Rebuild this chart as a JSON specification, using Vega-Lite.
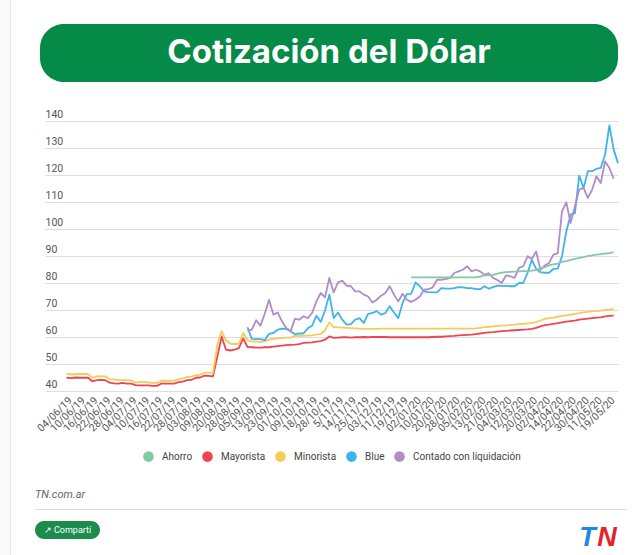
{"$schema":"https://vega.github.io/schema/vega-lite/v6.json","background":"#ffffff","padding":0,"autosize":{"type":"pad"},"config":{"concat":{"spacing":0},"view":{"stroke":null},"text":{"font":"Roboto"}},"datasets":{"blank":[{}],"dolar":[
{"d":"04/06/19","Mayorista":44.9,"Minorista":46.3},{"d":"06/06/19","Mayorista":44.8,"Minorista":46.2},{"d":"07/06/19","Mayorista":45,"Minorista":46.2},{"d":"10/06/19","Mayorista":44.9,"Minorista":46.3},{"d":"11/06/19","Mayorista":44.9,"Minorista":46.3},{"d":"13/06/19","Mayorista":44.9,"Minorista":46.2},{"d":"16/06/19","Mayorista":43.6,"Minorista":44.9},{"d":"18/06/19","Mayorista":44,"Minorista":45.4},{"d":"20/06/19","Mayorista":44.1,"Minorista":45.5},{"d":"22/06/19","Mayorista":44,"Minorista":45.4},{"d":"24/06/19","Mayorista":43.1,"Minorista":44.4},{"d":"26/06/19","Mayorista":42.8,"Minorista":44.3},{"d":"28/06/19","Mayorista":42.7,"Minorista":44},{"d":"30/06/19","Mayorista":43,"Minorista":44},{"d":"02/07/19","Mayorista":42.7,"Minorista":44},{"d":"04/07/19","Mayorista":42.7,"Minorista":43.9},{"d":"06/07/19","Mayorista":42.2,"Minorista":43.1},{"d":"08/07/19","Mayorista":42.1,"Minorista":43.4},{"d":"10/07/19","Mayorista":42.1,"Minorista":43.4},{"d":"12/07/19","Mayorista":42.1,"Minorista":43.2},{"d":"14/07/19","Mayorista":41.9,"Minorista":43},{"d":"16/07/19","Mayorista":41.9,"Minorista":43},{"d":"18/07/19","Mayorista":42.8,"Minorista":43.8},{"d":"20/07/19","Mayorista":42.7,"Minorista":43.8},{"d":"22/07/19","Mayorista":42.7,"Minorista":43.8},{"d":"24/07/19","Mayorista":42.7,"Minorista":43.8},{"d":"26/07/19","Mayorista":43.3,"Minorista":44.4},{"d":"28/07/19","Mayorista":43.5,"Minorista":44.7},{"d":"30/07/19","Mayorista":44,"Minorista":45.2},{"d":"01/08/19","Mayorista":44.1,"Minorista":45.3},{"d":"03/08/19","Mayorista":44.9,"Minorista":45.9},{"d":"05/08/19","Mayorista":45,"Minorista":46},{"d":"07/08/19","Mayorista":45.7,"Minorista":46.8},{"d":"09/08/19","Mayorista":45.6,"Minorista":46.8},{"d":"12/08/19","Mayorista":45.4,"Minorista":46.7},{"d":"14/08/19","Mayorista":52.8,"Minorista":57.2},{"d":"20/08/19","Mayorista":60.2,"Minorista":62.2},{"d":"22/08/19","Mayorista":55.3,"Minorista":58.8},{"d":"26/08/19","Mayorista":55,"Minorista":57.5},{"d":"28/08/19","Mayorista":55.3,"Minorista":57.4},{"d":"30/08/19","Mayorista":55.9,"Minorista":57.4},{"d":"03/09/19","Mayorista":59.5,"Minorista":61.5},{"d":"05/09/19","Mayorista":56.3,"Minorista":58.8,"Blue":63.6,"Contado con liquidación":62.3},{"d":"09/09/19","Mayorista":56.2,"Minorista":58.4,"Blue":59.3,"Contado con liquidación":62.7},{"d":"11/09/19","Mayorista":56.1,"Minorista":58.3,"Blue":59.2,"Contado con liquidación":66.2},{"d":"13/09/19","Mayorista":56.1,"Minorista":58.2,"Blue":59.2,"Contado con liquidación":64.2},{"d":"17/09/19","Mayorista":56.2,"Minorista":58.4,"Blue":58.8,"Contado con liquidación":68.6},{"d":"19/09/19","Mayorista":56.2,"Minorista":59,"Blue":61.2,"Contado con liquidación":73.8},{"d":"23/09/19","Mayorista":56.4,"Minorista":59.3,"Blue":61.5,"Contado con liquidación":68.3},{"d":"25/09/19","Mayorista":56.6,"Minorista":59.5,"Blue":62.7,"Contado con liquidación":69.1},{"d":"27/09/19","Mayorista":56.8,"Minorista":59.6,"Blue":63.1,"Contado con liquidación":65.8},{"d":"01/10/19","Mayorista":57,"Minorista":59.8,"Blue":63,"Contado con liquidación":63.3},{"d":"03/10/19","Mayorista":57.1,"Minorista":59.8,"Blue":62.1,"Contado con liquidación":62.1},{"d":"07/10/19","Mayorista":57.2,"Minorista":60.4,"Blue":61,"Contado con liquidación":66.7},{"d":"09/10/19","Mayorista":57.4,"Minorista":60.4,"Blue":61.3,"Contado con liquidación":66.4},{"d":"11/10/19","Mayorista":57.8,"Minorista":60.4,"Blue":61.3,"Contado con liquidación":67.7},{"d":"16/10/19","Mayorista":57.9,"Minorista":60.5,"Blue":63.2,"Contado con liquidación":67},{"d":"18/10/19","Mayorista":58,"Minorista":60.6,"Blue":64.2,"Contado con liquidación":68.9},{"d":"22/10/19","Mayorista":58.3,"Minorista":60.9,"Blue":67.9,"Contado con liquidación":73.2},{"d":"24/10/19","Mayorista":58.5,"Minorista":61.1,"Blue":65.6,"Contado con liquidación":76.3},{"d":"28/10/19","Mayorista":59,"Minorista":62.5,"Blue":69.8,"Contado con liquidación":74.7},{"d":"30/10/19","Mayorista":60.2,"Minorista":65.4,"Blue":75.7,"Contado con liquidación":81.9},{"d":"01/11/19","Mayorista":59.7,"Minorista":63.7,"Blue":67,"Contado con liquidación":76.5},{"d":"5/11/19","Mayorista":59.8,"Minorista":63.6,"Blue":69.1,"Contado con liquidación":80.2},{"d":"07/11/19","Mayorista":59.9,"Minorista":63.5,"Blue":66.4,"Contado con liquidación":80.9},{"d":"11/11/19","Mayorista":59.9,"Minorista":63.4,"Blue":64.6,"Contado con liquidación":79},{"d":"14/11/19","Mayorista":59.8,"Minorista":63.3,"Blue":64.8,"Contado con liquidación":78.8},{"d":"18/11/19","Mayorista":59.9,"Minorista":63.2,"Blue":66.4,"Contado con liquidación":76.9},{"d":"21/11/19","Mayorista":59.9,"Minorista":63.1,"Blue":67,"Contado con liquidación":76.9},{"d":"25/11/19","Mayorista":60,"Minorista":63,"Blue":65.2,"Contado con liquidación":75.7},{"d":"27/11/19","Mayorista":59.9,"Minorista":63,"Blue":68.6,"Contado con liquidación":75},{"d":"29/11/19","Mayorista":60,"Minorista":63,"Blue":68.9,"Contado con liquidación":72.8},{"d":"03/12/19","Mayorista":60,"Minorista":63,"Blue":69.6,"Contado con liquidación":73.8},{"d":"05/12/19","Mayorista":60,"Minorista":63.1,"Blue":68.3,"Contado con liquidación":75.3},{"d":"09/12/19","Mayorista":60,"Minorista":63.1,"Blue":68.9,"Contado con liquidación":76.3},{"d":"11/12/19","Mayorista":59.9,"Minorista":63.1,"Blue":71.4,"Contado con liquidación":78.8},{"d":"13/12/19","Mayorista":59.9,"Minorista":63.1,"Blue":69.1,"Contado con liquidación":75.7},{"d":"17/12/19","Mayorista":59.9,"Minorista":63.1,"Blue":67,"Contado con liquidación":73.2},{"d":"19/12/19","Mayorista":59.9,"Minorista":63.1,"Blue":72.6,"Contado con liquidación":76},{"d":"23/12/19","Mayorista":59.9,"Minorista":63.1,"Blue":75.9,"Contado con liquidación":73.8},{"d":"27/12/19","Ahorro":82.1,"Mayorista":59.9,"Minorista":63.1,"Blue":76,"Contado con liquidación":73},{"d":"02/01/20","Ahorro":82.1,"Mayorista":59.9,"Minorista":63.1,"Blue":80.2,"Contado con liquidación":73.8},{"d":"06/01/20","Ahorro":82.1,"Mayorista":59.9,"Minorista":63.1,"Blue":78.8,"Contado con liquidación":75},{"d":"08/01/20","Ahorro":82.1,"Mayorista":59.9,"Minorista":63.1,"Blue":76.9,"Contado con liquidación":77.5},{"d":"10/01/20","Ahorro":82.1,"Mayorista":59.9,"Minorista":63.1,"Blue":76.6,"Contado con liquidación":77.7},{"d":"14/01/20","Ahorro":82.1,"Mayorista":60,"Minorista":63.1,"Blue":76.5,"Contado con liquidación":78.4},{"d":"16/01/20","Ahorro":82.1,"Mayorista":60.1,"Minorista":63.1,"Blue":76.5,"Contado con liquidación":81.2},{"d":"20/01/20","Ahorro":82.1,"Mayorista":60.1,"Minorista":63.1,"Blue":78.1,"Contado con liquidación":81.2},{"d":"22/01/20","Ahorro":82.1,"Mayorista":60.2,"Minorista":63.1,"Blue":77.9,"Contado con liquidación":81.4},{"d":"24/01/20","Ahorro":82.1,"Mayorista":60.3,"Minorista":63.1,"Blue":77.9,"Contado con liquidación":81.9},{"d":"28/01/20","Ahorro":82.1,"Mayorista":60.4,"Minorista":63.1,"Blue":78.1,"Contado con liquidación":83.7},{"d":"30/01/20","Ahorro":82.1,"Mayorista":60.6,"Minorista":63.1,"Blue":78.5,"Contado con liquidación":84.3},{"d":"03/02/20","Ahorro":82.1,"Mayorista":60.7,"Minorista":63.1,"Blue":78.4,"Contado con liquidación":84.9},{"d":"05/02/20","Ahorro":82.1,"Mayorista":60.8,"Minorista":63.1,"Blue":78.1,"Contado con liquidación":86.2},{"d":"07/02/20","Ahorro":82.1,"Mayorista":60.9,"Minorista":63.1,"Blue":78.1,"Contado con liquidación":84.3},{"d":"11/02/20","Ahorro":82.1,"Mayorista":61.1,"Minorista":63.2,"Blue":77.7,"Contado con liquidación":84.9},{"d":"13/02/20","Ahorro":82.4,"Mayorista":61.3,"Minorista":63.4,"Blue":77.7,"Contado con liquidación":84.3},{"d":"17/02/20","Ahorro":82.8,"Mayorista":61.5,"Minorista":63.7,"Blue":78.8,"Contado con liquidación":83.1},{"d":"19/02/20","Ahorro":82.9,"Mayorista":61.7,"Minorista":63.8,"Blue":77.9,"Contado con liquidación":83.6},{"d":"21/02/20","Ahorro":83,"Mayorista":61.8,"Minorista":63.9,"Blue":78.5,"Contado con liquidación":81.9},{"d":"27/02/20","Ahorro":83.5,"Mayorista":62,"Minorista":64.1,"Blue":79,"Contado con liquidación":81.1},{"d":"02/03/20","Ahorro":83.8,"Mayorista":62.2,"Minorista":64.2,"Blue":78.9,"Contado con liquidación":80},{"d":"04/03/20","Ahorro":84,"Mayorista":62.3,"Minorista":64.3,"Blue":78.9,"Contado con liquidación":82.8},{"d":"06/03/20","Ahorro":84.1,"Mayorista":62.4,"Minorista":64.5,"Blue":78.8,"Contado con liquidación":82.5},{"d":"10/03/20","Ahorro":84.2,"Mayorista":62.5,"Minorista":64.6,"Blue":78.8,"Contado con liquidación":81.9},{"d":"12/03/20","Ahorro":84.3,"Mayorista":62.6,"Minorista":64.8,"Blue":80,"Contado con liquidación":85.6},{"d":"16/03/20","Ahorro":84.4,"Mayorista":62.7,"Minorista":64.9,"Blue":80,"Contado con liquidación":86.2},{"d":"18/03/20","Ahorro":84.4,"Mayorista":62.8,"Minorista":65,"Blue":83.7,"Contado con liquidación":89.9},{"d":"20/03/20","Ahorro":84.6,"Mayorista":63,"Minorista":65.2,"Blue":88.6,"Contado con liquidación":88.9},{"d":"25/03/20","Ahorro":84.8,"Mayorista":63.4,"Minorista":65.5,"Blue":85.2,"Contado con liquidación":91.7},{"d":"30/03/20","Ahorro":85.4,"Mayorista":63.9,"Minorista":66.1,"Blue":84,"Contado con liquidación":84.9},{"d":"02/04/20","Ahorro":85.9,"Mayorista":64.4,"Minorista":66.7,"Blue":83.8,"Contado con liquidación":86.5},{"d":"07/04/20","Ahorro":86.5,"Mayorista":64.6,"Minorista":67,"Blue":83.8,"Contado con liquidación":87.4},{"d":"09/04/20","Ahorro":86.9,"Mayorista":64.9,"Minorista":67.2,"Blue":85.2,"Contado con liquidación":90.5},{"d":"14/04/20","Ahorro":87.2,"Mayorista":65.1,"Minorista":67.5,"Blue":85.3,"Contado con liquidación":91},{"d":"16/04/20","Ahorro":87.8,"Mayorista":65.4,"Minorista":67.8,"Blue":89.9,"Contado con liquidación":106.5},{"d":"20/04/20","Ahorro":88.1,"Mayorista":65.7,"Minorista":68,"Blue":99.1,"Contado con liquidación":109.9},{"d":"22/04/20","Ahorro":88.6,"Mayorista":65.9,"Minorista":68.3,"Blue":105.3,"Contado con liquidación":102.2},{"d":"24/04/20","Ahorro":88.9,"Mayorista":66.1,"Minorista":68.6,"Blue":105.9,"Contado con liquidación":108.4},{"d":"28/04/20","Ahorro":89.3,"Mayorista":66.4,"Minorista":68.8,"Blue":119.8,"Contado con liquidación":114.6},{"d":"30/04/20","Ahorro":89.6,"Mayorista":66.6,"Minorista":69.1,"Blue":115.2,"Contado con liquidación":115.2},{"d":"05/05/20","Ahorro":90,"Mayorista":66.8,"Minorista":69.3,"Blue":121.4,"Contado con liquidación":111.5},{"d":"07/05/20","Ahorro":90.2,"Mayorista":67,"Minorista":69.5,"Blue":121.4,"Contado con liquidación":114.6},{"d":"11/05/20","Ahorro":90.5,"Mayorista":67.2,"Minorista":69.6,"Blue":122.3,"Contado con liquidación":119.5},{"d":"13/05/20","Ahorro":90.7,"Mayorista":67.3,"Minorista":69.8,"Blue":122.6,"Contado con liquidación":117},{"d":"15/05/20","Ahorro":90.9,"Mayorista":67.6,"Minorista":70,"Blue":127.5,"Contado con liquidación":125},{"d":"19/05/20","Ahorro":91.1,"Mayorista":67.8,"Minorista":70.1,"Blue":138.4,"Contado con liquidación":122.6},{"d":"20/05/20","Ahorro":91.4,"Mayorista":67.9,"Minorista":70.4,"Blue":129.4,"Contado con liquidación":118.6},{"d":"21/05/20","Blue":124.4}
]},
"hconcat":[
{"width":10,"height":555,"view":{"fill":"#fafafa","stroke":null},"data":{"name":"blank"},"mark":{"type":"rect","opacity":0}},
{"width":1,"height":555,"view":{"fill":"#e6e6e6","stroke":null},"data":{"name":"blank"},"mark":{"type":"rect","opacity":0}},
{"width":21,"height":555,"data":{"name":"blank"},"mark":{"type":"rect","opacity":0}},
{"vconcat":[
{"width":1,"height":24,"data":{"name":"blank"},"mark":{"type":"rect","opacity":0}},
{"hconcat":[
{"width":8,"height":58,"data":{"name":"blank"},"mark":{"type":"rect","opacity":0}},
{"width":578,"height":58,"view":{"fill":"#068a47","cornerRadius":24,"stroke":null},"data":{"values":[{"t":"Cotización del Dólar"}]},"mark":{"type":"text","font":"Inter","fontSize":33,"fontWeight":"bold","color":"#ffffff"},"encoding":{"text":{"field":"t"}}}
]},
{"width":1,"height":27,"data":{"name":"blank"},"mark":{"type":"rect","opacity":0}},
{"hconcat":[
{"width":3,"height":1,"data":{"name":"blank"},"mark":{"type":"rect","opacity":0}},
{"width":573,"height":270,"data":{"name":"dolar"},"transform":[{"fold":["Ahorro","Mayorista","Minorista","Blue","Contado con liquidación"],"as":["serie","valor"]},{"filter":"isValid(datum.valor)"}],
"encoding":{
"x":{"field":"d","type":"ordinal","sort":null,"title":null,"scale":{"type":"point","padding":0,"domain":["·1","·2","·3","·4","·5","04/06/19","06/06/19","07/06/19","10/06/19","11/06/19","13/06/19","16/06/19","18/06/19","20/06/19","22/06/19","24/06/19","26/06/19","28/06/19","30/06/19","02/07/19","04/07/19","06/07/19","08/07/19","10/07/19","12/07/19","14/07/19","16/07/19","18/07/19","20/07/19","22/07/19","24/07/19","26/07/19","28/07/19","30/07/19","01/08/19","03/08/19","05/08/19","07/08/19","09/08/19","12/08/19","14/08/19","20/08/19","22/08/19","26/08/19","28/08/19","30/08/19","03/09/19","05/09/19","09/09/19","11/09/19","13/09/19","17/09/19","19/09/19","23/09/19","25/09/19","27/09/19","01/10/19","03/10/19","07/10/19","09/10/19","11/10/19","16/10/19","18/10/19","22/10/19","24/10/19","28/10/19","30/10/19","01/11/19","5/11/19","07/11/19","11/11/19","14/11/19","18/11/19","21/11/19","25/11/19","27/11/19","29/11/19","03/12/19","05/12/19","09/12/19","11/12/19","13/12/19","17/12/19","19/12/19","23/12/19","27/12/19","02/01/20","06/01/20","08/01/20","10/01/20","14/01/20","16/01/20","20/01/20","22/01/20","24/01/20","28/01/20","30/01/20","03/02/20","05/02/20","07/02/20","11/02/20","13/02/20","17/02/20","19/02/20","21/02/20","27/02/20","02/03/20","04/03/20","06/03/20","10/03/20","12/03/20","16/03/20","18/03/20","20/03/20","25/03/20","30/03/20","02/04/20","07/04/20","09/04/20","14/04/20","16/04/20","20/04/20","22/04/20","24/04/20","28/04/20","30/04/20","05/05/20","07/05/20","11/05/20","13/05/20","15/05/20","19/05/20","20/05/20","21/05/20"]},
"axis":{"values":["04/06/19","10/06/19","16/06/19","22/06/19","28/06/19","04/07/19","10/07/19","16/07/19","22/07/19","28/07/19","03/08/19","09/08/19","20/08/19","28/08/19","05/09/19","13/09/19","23/09/19","01/10/19","09/10/19","18/10/19","28/10/19","5/11/19","14/11/19","25/11/19","03/12/19","11/12/19","19/12/19","02/01/20","10/01/20","20/01/20","28/01/20","05/02/20","13/02/20","21/02/20","04/03/20","12/03/20","20/03/20","02/04/20","14/04/20","22/04/20","30/04/20","11/05/20","19/05/20"],"labelAngle":-45,"labelAlign":"right","labelBaseline":"top","labelDx":14.5,"labelDy":3.5,"labelPadding":4,"labelOverlap":false,"labelBound":false,"labelFlush":false,"ticks":false,"domain":false,"grid":false,"labelFont":"Roboto","labelFontSize":10.5,"labelColor":"#555555"}},
"y":{"field":"valor","type":"quantitative","title":null,"scale":{"domain":[40,140],"nice":false,"zero":false},"axis":{"values":[40,50,60,70,80,90,100,110,120,130,140],"labelAlign":"left","labelBaseline":"bottom","labelPadding":0,"labelOffset":-2,"minExtent":0,"ticks":false,"tickSize":0,"domain":false,"grid":true,"gridColor":"#dddddd","gridWidth":1,"labelFont":"Roboto","labelFontSize":10.5,"labelColor":"#555555"}}
},
"resolve":{"legend":{"color":"independent"}},
"layer":[
{"mark":{"type":"line","strokeWidth":1.8,"strokeJoin":"round"},"encoding":{"color":{"field":"serie","type":"nominal","scale":{"domain":["Ahorro","Mayorista","Minorista","Blue","Contado con liquidación"],"range":["#82c9a5","#f04450","#f4cc58","#3fb3ec","#b08cc8"]},"legend":null}}},
{"mark":{"type":"circle","size":0},"encoding":{"color":{"field":"serie","type":"nominal","scale":{"domain":["Ahorro","Mayorista","Minorista","Blue","Contado con liquidación"],"range":["#82c9a5","#f04450","#f4cc58","#3fb3ec","#b08cc8"]},"legend":{"orient":"none","legendX":97,"legendY":329,"title":null,"direction":"horizontal","columns":5,"symbolType":"circle","symbolSize":113,"symbolOpacity":1,"columnPadding":8,"labelFont":"Roboto","labelFontSize":10,"labelColor":"#444444","labelOffset":7}}}}
]}
]},
{"width":1,"height":27,"data":{"name":"blank"},"mark":{"type":"rect","opacity":0}},
{"hconcat":[
{"width":3,"height":1,"data":{"name":"blank"},"mark":{"type":"rect","opacity":0}},
{"width":592,"height":1,"view":{"fill":"#d8d8d8","stroke":null},"title":{"text":"TN.com.ar","anchor":"start","font":"Roboto","fontStyle":"italic","fontWeight":"normal","fontSize":11,"color":"#666666","offset":9},"data":{"name":"blank"},"mark":{"type":"rect","opacity":0}}
]},
{"width":1,"height":11,"data":{"name":"blank"},"mark":{"type":"rect","opacity":0}},
{"hconcat":[
{"width":3,"height":18,"data":{"name":"blank"},"mark":{"type":"rect","opacity":0}},
{"width":65,"height":18,"view":{"fill":"#1c8c4c","cornerRadius":9,"stroke":null},"data":{"values":[{"t":"↗ Compartí"}]},"mark":{"type":"text","font":"Roboto","fontSize":9,"color":"#ffffff"},"encoding":{"text":{"field":"t"}}},
{"width":479,"height":18,"data":{"name":"blank"},"mark":{"type":"rect","opacity":0}},
{"width":17,"height":33,"data":{"values":[{"t":"T"}]},"mark":{"type":"text","font":"Liberation Sans","fontSize":27,"fontWeight":"bold","fontStyle":"italic","color":"#1e88e5"},"encoding":{"text":{"field":"t"}}},
{"width":22,"height":33,"data":{"values":[{"t":"N"}]},"mark":{"type":"text","font":"Liberation Sans","fontSize":27,"fontWeight":"bold","fontStyle":"italic","color":"#e8202a"},"encoding":{"text":{"field":"t"}}}
]}
]}
]}
